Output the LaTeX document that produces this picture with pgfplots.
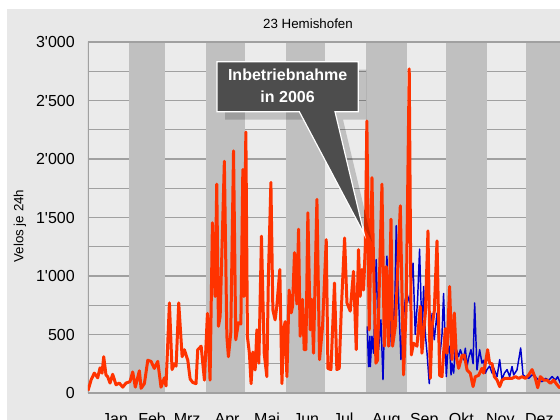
\documentclass[border=0pt]{standalone}
\usepackage{pgfplots}
\pgfplotsset{compat=1.18}
\usepackage{fontspec}
\setmainfont{Liberation Sans}
\definecolor{outerbg}{HTML}{E8E8E8}
\definecolor{plotbg}{HTML}{EBEBEB}
\definecolor{bandgray}{HTML}{C0C0C0}
\definecolor{gridgray}{HTML}{A0A0A0}
\definecolor{redline}{HTML}{FF3300}
\definecolor{blueline}{HTML}{0000CC}
\definecolor{callout}{HTML}{4D4D4D}
\newcommand{\q}{\textquotesingle}
\begin{document}
\begin{tikzpicture}
\fill[white] (-66pt,-20.25pt) rectangle (354pt,294.75pt);
\fill[outerbg] (-60.75pt,-20.25pt) rectangle (354pt,288pt);
\begin{axis}[
  scale only axis, width=354pt, height=263.25pt,
  xmin=0, xmax=360, ymin=0, ymax=3000,
  axis line style={draw=none},
  axis background/.style={fill=plotbg},
  ytick={0,500,1000,1500,2000,2500,3000},
  yticklabels={0,500,1\q000,1\q500,2\q000,2\q500,3\q000},
  minor ytick={250,750,1250,1750,2250,2750},
  ymajorgrids, yminorgrids,
  major grid style={draw=gridgray, line width=1.1pt},
  minor grid style={draw=gridgray, line width=1.1pt},
  major tick length=0pt, minor tick length=0pt,
  xtick={20.6,48.9,75.6,106.1,136.6,166.4,194.7,227.5,256.5,284.7,314.5,344.3},
  xticklabels={Jan,Feb,Mrz,Apr,Mai,Jun,Jul,Aug,Sep,Okt,Nov,Dez},
  xticklabel style={anchor=north, inner sep=0pt, yshift=-15pt, font=\fontsize{12}{14}\selectfont},
  yticklabel style={anchor=east, inner sep=0pt, xshift=-9.75pt, font=\fontsize{12}{14}\selectfont},
]
\fill[bandgray] (axis cs:31,0) rectangle (axis cs:59,3000);
\fill[bandgray] (axis cs:90,0) rectangle (axis cs:120,3000);
\fill[bandgray] (axis cs:151,0) rectangle (axis cs:181,3000);
\fill[bandgray] (axis cs:212,0) rectangle (axis cs:243,3000);
\fill[bandgray] (axis cs:273,0) rectangle (axis cs:304,3000);
\fill[bandgray] (axis cs:334,0) rectangle (axis cs:360,3000);
\draw[gridgray, line width=1.1pt] (axis cs:0,3000) -- (axis cs:360,3000);
\draw[gridgray, line width=1.1pt] (axis cs:0,0) -- (axis cs:360,0);
\draw[gridgray, line width=1.1pt] (axis cs:0,0) -- (axis cs:0,3000);
\addplot[blueline, line width=1.1pt, line join=round] table {
213 570
214 225
215 485
215.3 225
216.6 485
217.8 340
219.8 1140
221.6 370
223.4 625
225 115
226.7 855
228 1170
230 400
231.8 800
233.6 510
235.1 1430
236.9 800
238.7 285
240.2 600
242 800
243.3 850
245.3 770
247.9 1110
249.6 500
251.4 800
252.9 1230
254.7 500
256 910
257.3 500
258.6 340
260.3 80
262.4 680
264.1 455
266.2 683
268.2 300
270 500
271.2 850
273.3 140
274.3 340
275.8 400
276.9 155
277.6 254
278.9 170
280.2 397
282.7 311
284 370
286.5 283
287.8 383
289.1 226
290.3 300
292.1 370
293.7 250
294.9 770
296.7 197
298.7 370
300.5 255
301.8 280
303.1 170
304.3 200
306.3 230
308.2 170
309.4 215
312 140
314 285
315.8 115
317.6 170
319.6 200
321.6 140
323.4 226
324.7 155
327.2 197
328.5 283
330 385
331.8 155
333.6 140
336.1 125
338.7 155
341.2 140
343.7 110
346.3 97
348.9 125
351.4 110
354 140
356.5 110
358.2 140
360.3 83
};
\addplot[redline, line width=2.25pt, line join=round] table {
0 20
2.3 110
4.8 170
7.4 130
9.2 215
10.7 170
12 310
13.7 155
15 140
16.8 85
18.8 160
21.4 70
23.9 85
26.5 50
29 85
32 97
34.1 180
36.1 50
39.2 190
40.5 40
43 80
45.6 280
48.1 270
50.6 210
53.2 270
55.7 50
58.3 130
59.5 60
62.1 770
64.1 200
65.9 250
67.2 230
69.2 770
71.8 310
73.5 370
76.1 280
77.9 120
79.9 90
82.4 80
83.7 370
86.3 400
88.8 110
91.1 680
93.1 110
94.9 1455
96.9 825
98.2 1785
99.5 570
100.8 655
104 1980
105.9 485
107.1 310
108.9 515
111 2070
112.7 455
114.7 600
116.6 590
118.1 1910
118.9 825
120.4 2230
121.6 480
123.1 340
124.4 80
125.7 350
127.5 197
128.8 540
130.3 255
132.3 1340
134.4 340
136.4 140
137.6 1000
139.5 1800
141 710
142.7 625
144 740
146.3 1055
147.9 80
149.3 550
150.4 610
151.7 140
153.4 880
155 685
156 740
157.5 1200
159.3 760
160.6 1400
161.8 485
163.6 800
164.9 370
166.2 370
167.7 1540
169.5 540
170.7 800
172 340
174.6 1655
176.6 285
178.9 570
181.7 1310
183 210
185.3 200
188 940
189.8 200
191.6 210
193.1 683
195.7 1325
197.5 770
200 700
202.5 1040
204.6 370
206.3 1225
207.6 825
208.9 1055
210.2 880
211.5 1260
212.7 2325
214.5 540
216.6 1840
217.8 1100
219.6 255
220.8 280
222.4 1025
224.2 1785
226 400
227.5 1080
229.2 400
231.1 1485
232.3 400
234.4 570
236.1 1025
238.2 1600
240.7 155
242.7 740
245 2770
246.6 325
248.3 425
250.9 400
253.4 740
254.7 340
257.3 683
259.3 1385
261.1 125
262.4 570
264.1 700
266.2 1300
268.2 150
270 140
272.5 550
273.8 340
275.8 910
277.6 285
279.4 683
280.9 311
282.7 211
285.3 320
287 325
289.1 197
291.6 168
293.7 55
295.4 140
297.9 150
300.5 211
301.8 170
304.8 370
306.3 254
308.2 250
309.9 140
312 111
314 55
315.8 110
318.3 126
320.9 125
323.4 125
326 140
328.5 125
331.1 140
333.6 125
336.1 154
338.7 200
341.2 125
343 45
345 140
347.6 110
350.2 110
352.7 83
355.2 110
357.8 69
359.8 45
362 60
};
\end{axis}
% callout shadow
\fill[black, opacity=0.18, shift={(6pt,-6pt)}] (96.75pt,248.5pt) -- (202.7pt,248.5pt) -- (202.7pt,211pt) -- (185.25pt,211pt) -- (207.2pt,119pt) -- (158.5pt,211pt) -- (96.75pt,211pt) -- cycle;
% callout
\filldraw[fill=callout, draw=white, line width=0.9pt, line join=miter] (96.75pt,248.5pt) -- (202.7pt,248.5pt) -- (202.7pt,211pt) -- (185.25pt,211pt) -- (207.2pt,119pt) -- (158.5pt,211pt) -- (96.75pt,211pt) -- cycle;
\node[white, font=\fontsize{12}{14}\selectfont\bfseries] at (149.7pt,238.5pt) {Inbetriebnahme};
\node[white, font=\fontsize{12}{14}\selectfont\bfseries] at (149.7pt,222.2pt) {in 2006};
% title and y label
\node[font=\fontsize{10}{12}\selectfont] at (165pt,276.75pt) {23 Hemishofen};
\node[font=\fontsize{10}{12}\selectfont, rotate=90] at (-51pt,125.25pt) {Velos je 24h};
\pgfresetboundingbox
\path[use as bounding box] (-66pt,-20.25pt) rectangle (354pt,294.75pt);
\end{tikzpicture}
\end{document}
